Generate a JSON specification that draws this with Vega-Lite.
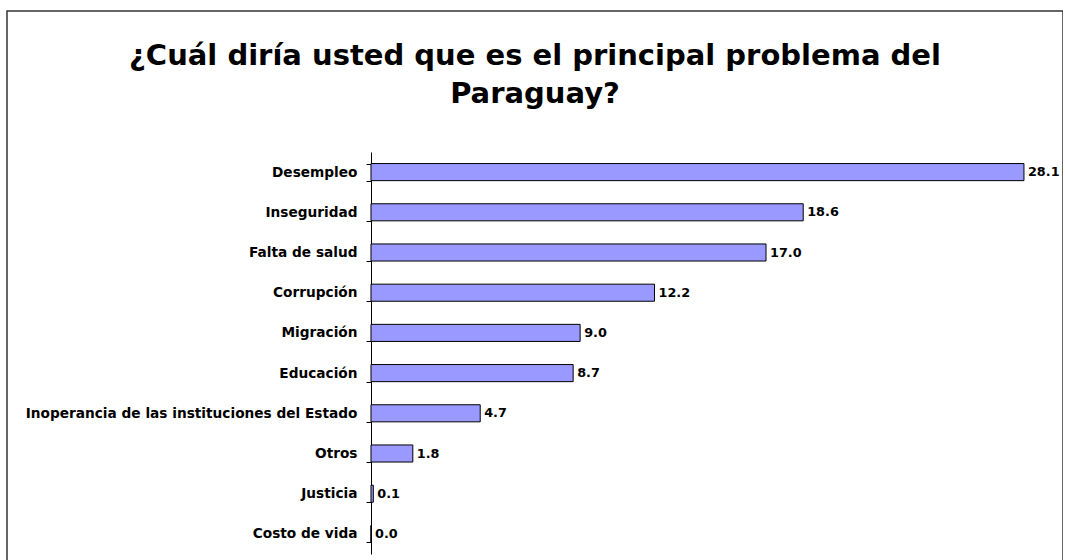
{
  "$schema": "https://vega.github.io/schema/vega-lite/v6.json",
  "width": 1056,
  "height": 560,
  "padding": {"left": 7, "top": 11, "right": 0, "bottom": 0},
  "autosize": {"type": "none"},
  "background": "white",
  "title": {
    "text": ["¿Cuál diría usted que es el principal problema del", "Paraguay?"],
    "font": "DejaVu Sans",
    "fontSize": 29,
    "fontWeight": "bold",
    "color": "black",
    "anchor": "middle",
    "lineHeight": 38,
    "baseline": "bottom",
    "offset": -134
  },
  "config": {
    "view": {"stroke": "#333333", "strokeWidth": 1.5},
    "font": "DejaVu Sans"
  },
  "data": {
    "values": [
      {"problema": "Desempleo", "valor": 28.1},
      {"problema": "Inseguridad", "valor": 18.6},
      {"problema": "Falta de salud", "valor": 17.0},
      {"problema": "Corrupción", "valor": 12.2},
      {"problema": "Migración", "valor": 9.0},
      {"problema": "Educación", "valor": 8.7},
      {"problema": "Inoperancia de las instituciones del Estado", "valor": 4.7},
      {"problema": "Otros", "valor": 1.8},
      {"problema": "Justicia", "valor": 0.1},
      {"problema": "Costo de vida", "valor": 0.0}
    ]
  },
  "encoding": {
    "y": {
      "field": "problema",
      "type": "nominal",
      "sort": null,
      "scale": {"range": [141, 543], "paddingInner": 0.575, "paddingOuter": 0.2875},
      "axis": {
        "title": null,
        "offset": -364,
        "domainColor": "black",
        "domainWidth": 1,
        "tickColor": "black",
        "tickSize": 5,
        "tickBand": "extent",
        "labelFont": "DejaVu Sans",
        "labelFontSize": 13.7,
        "labelFontWeight": "bold",
        "labelColor": "black",
        "labelPadding": 9,
        "labelLimit": 0
      }
    },
    "x": {
      "field": "valor",
      "type": "quantitative",
      "scale": {"domain": [-15.664, 29.78], "nice": false, "zero": false},
      "axis": null
    }
  },
  "layer": [
    {
      "mark": {"type": "bar", "fill": "#9999FF", "stroke": "black", "strokeWidth": 1},
      "encoding": {"x2": {"datum": 0}}
    },
    {
      "mark": {"type": "text", "align": "left", "dx": 4, "font": "DejaVu Sans", "fontSize": 12.8, "fontWeight": "bold", "color": "black"},
      "encoding": {"text": {"field": "valor", "type": "quantitative", "format": ".1f"}}
    }
  ]
}
